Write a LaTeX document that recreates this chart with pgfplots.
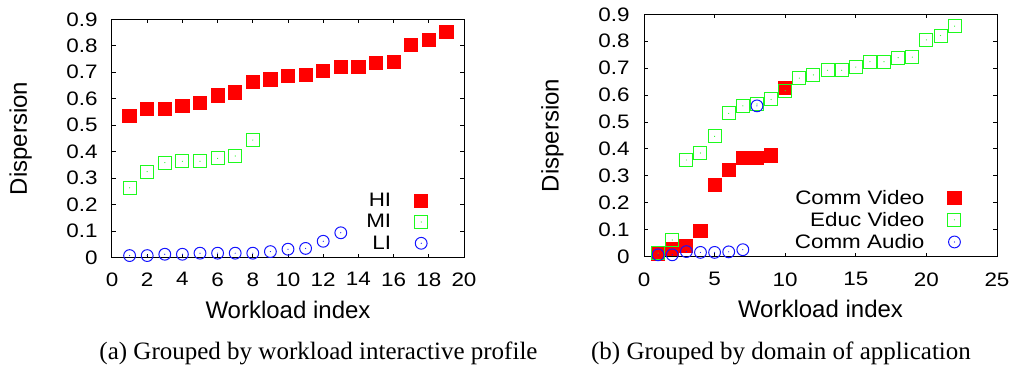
\documentclass[border=0pt]{standalone}
\usepackage{pgfplots}
\pgfplotsset{compat=1.18}
\usepackage{fontspec}
\setmainfont{Liberation Sans}
\newfontfamily\tickfont[FakeStretch=1.15]{Liberation Sans}
\newfontfamily\capfont{Liberation Serif}

\definecolor{gpred}{RGB}{255,0,0}
\definecolor{gpgreen}{RGB}{30,250,30}
\definecolor{gpblue}{RGB}{20,20,255}

\pgfdeclareplotmark{dotsquare}{%
  \pgfpathrectangle{\pgfqpoint{-\pgfplotmarksize}{-\pgfplotmarksize}}{\pgfqpoint{2\pgfplotmarksize}{2\pgfplotmarksize}}%
  \pgfusepathqstroke
  \pgfpathcircle{\pgfpointorigin}{0.6pt}\pgfusepathqfill}
\pgfdeclareplotmark{dotcircle}{%
  \pgfpathcircle{\pgfpointorigin}{\pgfplotmarksize}%
  \pgfusepathqstroke
  \pgfpathcircle{\pgfpointorigin}{0.6pt}\pgfusepathqfill}

\pgfplotsset{
  gp/.style={
    scale only axis,
    clip=false,
    ymin=0, ymax=0.9,
    ytick={0,0.1,0.2,0.3,0.4,0.5,0.6,0.7,0.8,0.9},
    tick align=inside,
    major tick length=4pt,
    axis line style={line width=1pt, black},
    every tick/.style={line width=1pt, black},
    /pgf/number format/assume math mode=true,
    ticklabel style={font=\tickfont\fontsize{19.5}{20}\selectfont, inner sep=0pt},
    xticklabel shift=14.6pt,
    yticklabel shift=14.3pt,
    label style={font=\fontsize{24}{28}\selectfont},
    xlabel={Workload index},
    ylabel={Dispersion},
    xlabel style={at={(axis description cs:0.5,0)}, anchor=base, yshift=-60.6pt},
    legend plot pos=right,
    legend cell align=right,
    legend style={draw=none, fill=none, inner sep=0pt, outer sep=0pt,
      row sep=6.3pt, column sep=0pt,
      font=\tickfont\fontsize{19.5}{20}\selectfont,
      nodes={inner sep=0pt, outer sep=0pt}},
    legend image code/.code={%
      \pgfpathrectangle{\pgfqpoint{0pt}{-7.5pt}}{\pgfqpoint{37.5pt}{15pt}}\pgfusepath{use as bounding box}%
      \draw[mark repeat=2,mark phase=2,##1] plot coordinates {(0pt,0pt) (30pt,0pt) (37pt,0pt)};},
  },
  hi/.style={only marks, mark=square*, mark size=6.6pt, mark options={draw=gpred, fill=gpred, line width=1pt}},
  mi/.style={only marks, mark=dotsquare, mark size=6.5pt, mark options={draw=gpgreen, fill=gpgreen, line width=1pt}},
  li/.style={only marks, mark=dotcircle, mark size=5.9pt, mark options={draw=gpblue, fill=gpblue, line width=1pt}},
}

\begin{document}
\begin{tikzpicture}
\useasboundingbox (0pt,0pt) rectangle (1013pt,-367pt);

\begin{axis}[gp,
  at={(112pt,-19.3pt)}, anchor=north west,
  width=352pt, height=238.4pt,
  xmin=0, xmax=20, xtick={0,2,4,6,8,10,12,14,16,18,20},
  ylabel style={at={(axis description cs:-0.2415,0.5)}, anchor=base},
  legend style={at={(axis description cs:0.8997,0.029)}, anchor=south east},
]
\addplot[hi] coordinates {
(1,0.535) (2,0.560) (3,0.560) (4,0.573) (5,0.583) (6,0.612) (7,0.624) (8,0.663)
(9,0.673) (10,0.687) (11,0.691) (12,0.704) (13,0.721) (14,0.721) (15,0.736)
(16,0.740) (17,0.803) (18,0.821) (19,0.853)};
\addlegendentry{HI}
\addplot[mi] coordinates {
(1,0.264) (2,0.325) (3,0.359) (4,0.364) (5,0.364) (6,0.375) (7,0.384) (8,0.444)};
\addlegendentry{MI}
\addplot[li] coordinates {
(1,0.008) (2,0.008) (3,0.013) (4,0.013) (5,0.017) (6,0.017) (7,0.017) (8,0.017)
(9,0.023) (10,0.032) (11,0.035) (12,0.062) (13,0.094)};
\addlegendentry{LI}
\end{axis}

\begin{axis}[gp,
  at={(644pt,-14.3pt)}, anchor=north west,
  width=353pt, height=242.4pt,
  xmin=0, xmax=25, xtick={0,5,10,15,20,25},
  xticklabel shift=15.5pt,
  ylabel style={at={(axis description cs:-0.2416,0.5)}, anchor=base},
  legend style={at={(axis description cs:0.9008,0.0285)}, anchor=south east, row sep=6.5pt},
]
\addplot[hi] coordinates {
(1,0.010) (2,0.030) (3,0.041) (4,0.095) (5,0.265) (6,0.322) (7,0.365) (8,0.365)
(9,0.376) (10,0.625)};
\addlegendentry{Comm Video}
\addplot[mi] coordinates {
(1,0.013) (2,0.062) (3,0.359) (4,0.385) (5,0.447) (6,0.532) (7,0.560) (8,0.567)
(9,0.584) (10,0.616) (11,0.663) (12,0.675) (13,0.692) (14,0.692) (15,0.704)
(16,0.724) (17,0.724) (18,0.739) (19,0.741) (20,0.805) (21,0.821) (22,0.856)};
\addlegendentry{Educ Video}
\addplot[li] coordinates {
(1,0.007) (2,0.007) (3,0.019) (4,0.016) (5,0.016) (6,0.018) (7,0.026) (8,0.560)};
\addlegendentry{Comm Audio}
\end{axis}

\node[font=\capfont\fontsize{25}{30}\selectfont, anchor=base, inner sep=0pt] at (318.5pt,-359.6pt) {(a) Grouped by workload interactive profile};
\node[font=\capfont\fontsize{25}{30}\selectfont, anchor=base, inner sep=0pt] at (781pt,-359.6pt) {(b) Grouped by domain of application};
\end{tikzpicture}
\end{document}
